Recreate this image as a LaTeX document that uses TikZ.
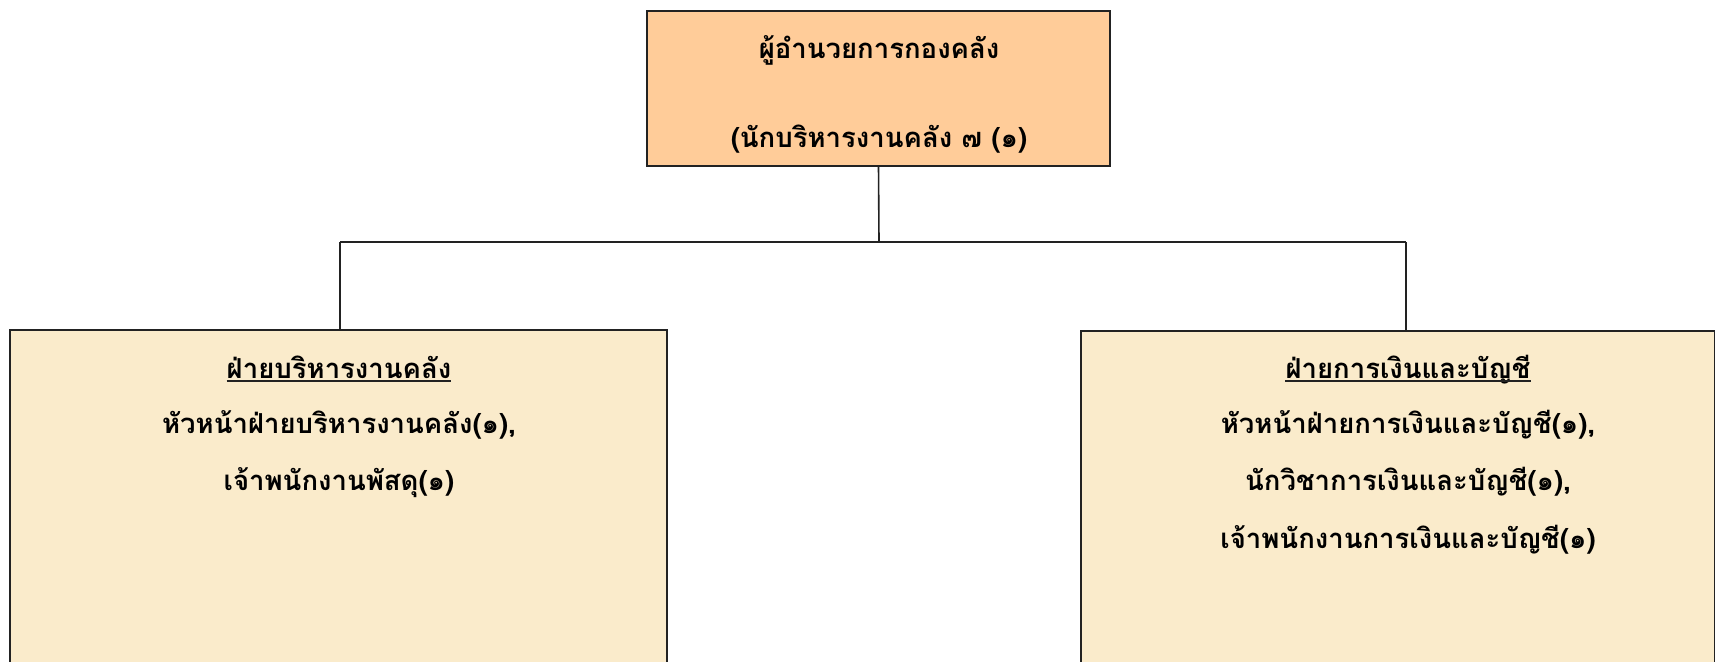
\documentclass[tikz,border=0pt]{standalone}
\usepackage{fontspec}
\newfontfamily\thai[Script=Thai]{Loma}
\definecolor{topfill}{HTML}{FFCC99}
\definecolor{subfill}{HTML}{FAEBCB}
\definecolor{edge}{HTML}{222222}
\begin{document}
\begin{tikzpicture}[x=1pt,y=-1pt,
  box/.style={draw=edge,line width=1.6pt,inner sep=0pt},
  toptext/.style={font=\thai\bfseries\fontsize{27.5}{32}\selectfont,inner sep=0pt,anchor=base},
  subtext/.style={font=\thai\bfseries\fontsize{27.5}{32}\selectfont,inner sep=0pt,anchor=base},
  link/.style={draw=edge,line width=1.6pt}]
\useasboundingbox (0,0) rectangle (1715,661);
\fill[white] (0,0) rectangle (1715,661);
% top box
\node[box,fill=topfill,minimum width=463pt,minimum height=155pt] (top) at (878.5,88.5) {};
\node[toptext] (t1) at (879,59) {ผู้อำนวยการกองคลัง};
\node[toptext] (t2) at (879,147) {(นักบริหารงานคลัง ๗ (๑)};
% lower boxes
\node[box,fill=subfill,minimum width=657pt,minimum height=400pt,anchor=north west] (left) at (9,329) {};
\node[box,fill=subfill,minimum width=634pt,minimum height=400pt,anchor=north west] (right) at (1080,330) {};
% connectors
\coordinate (j) at (879,242);
\coordinate (lj) at (340,242);
\coordinate (rj) at (1406,242);
\draw[link] (top.south) -- (j);
\draw[link] (lj) -- (rj);
\draw[link] (lj) -- (lj |- left.north);
\draw[link] (rj) -- (rj |- right.north);
% left texts
\node[subtext] (lt) at (339,378) {ฝ่ายบริหารงานคลัง};
\draw[edge,line width=1.5pt] ([yshift=-3pt]lt.base west) -- ([yshift=-3pt]lt.base east);
\node[subtext] (l1) at (339,433) {หัวหน้าฝ่ายบริหารงานคลัง(๑),};
\node[subtext] (l2) at (339,490) {เจ้าพนักงานพัสดุ(๑)};
% right texts
\node[subtext] (rt) at (1408,378) {ฝ่ายการเงินและบัญชี};
\draw[edge,line width=1.5pt] ([yshift=-3pt]rt.base west) -- ([yshift=-3pt]rt.base east);
\node[subtext] (r1) at (1408,433) {หัวหน้าฝ่ายการเงินและบัญชี(๑),};
\node[subtext] (r2) at (1408,490) {นักวิชาการเงินและบัญชี(๑),};
\node[subtext] (r3) at (1408,548) {เจ้าพนักงานการเงินและบัญชี(๑)};
\end{tikzpicture}
\end{document}
